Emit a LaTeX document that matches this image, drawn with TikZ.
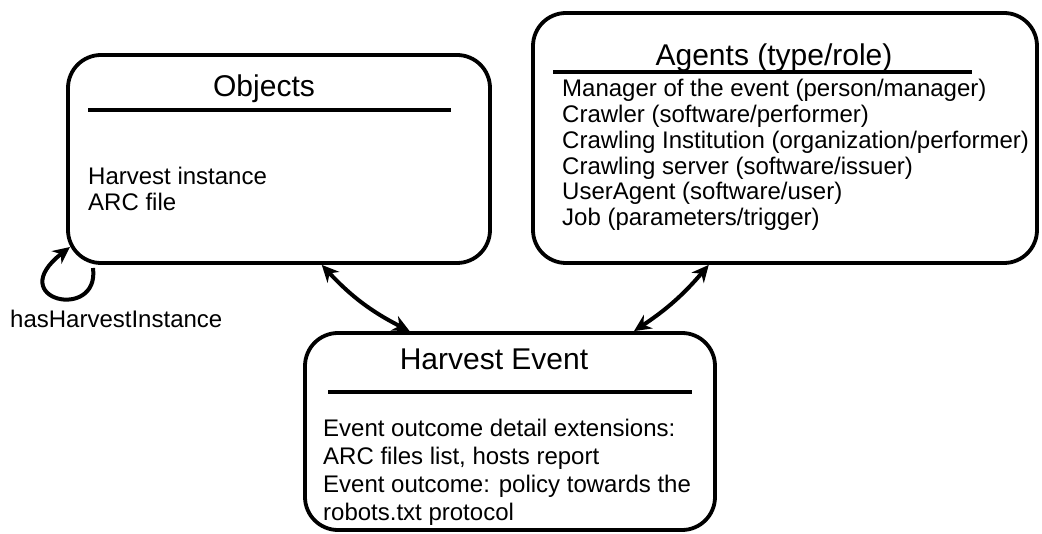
\documentclass[tikz,border=0pt]{standalone}
\usepackage{fontspec}
\setmainfont{Liberation Sans}
\usetikzlibrary{arrows.meta}

\tikzset{
  box/.style={draw, line width=3.8pt, rounded corners=33pt, inner sep=0pt},
  rule/.style={line width=3.8pt},
  title/.style={font=\fontsize{30}{32}\selectfont, anchor=base, inner sep=0pt},
  entries/.style={font=\fontsize{24}{#1}\selectfont, anchor=base west, align=left, inner sep=0pt},
  link/.style={line width=4pt, {Stealth[length=17pt,width=16pt]}-{Stealth[length=17pt,width=16pt]}},
  selfloop/.style={line width=4pt, -{Stealth[length=17pt,width=16pt]}}
}

\begin{document}
\begin{tikzpicture}[x=1pt,y=-1pt]
    \useasboundingbox (0,0) rectangle (1042,534);

    % Boxes
    \node[box, minimum width=422pt, minimum height=208pt] (objects) at (279,159) {};
    \node[box, minimum width=504pt, minimum height=250pt] (agents) at (785,138) {};
    \node[box, minimum width=410pt, minimum height=197pt] (event) at (510,431.5) {};

    % Rules under the titles
    \coordinate (objL) at (88,110);
    \coordinate (objR) at (451,110);
    \coordinate (agL) at (553,72);
    \coordinate (agR) at (972,72);
    \coordinate (evL) at (328,392);
    \coordinate (evR) at (692,392);
    \draw[rule] (objL) -- (objR);
    \draw[rule] (agL) -- (agR);
    \draw[rule] (evL) -- (evR);

    % Titles
    \node[title] (objTitle) at (264,97) {Objects};
    \node[title] (agTitle) at (774,66) {Agents (type/role)};
    \node[title] (evTitle) at (494,370) {Harvest Event};

    % Contents (base sits on the last line)
    \node[entries=26] (objText) at (88,211) {Harvest instance\\ARC file};
    \node[entries=25.7] (agText) at (562,225.5) {Manager of the event (person/manager)\\
        Crawler (software/performer)\\
        Crawling Institution (organization/performer)\\
        Crawling server (software/issuer)\\
        UserAgent (software/user)\\
        Job (parameters/trigger)};
    \node[entries=27.7] (evText) at (323,520) {Event outcome detail extensions:\\
        ARC files list, hosts report\\
        Event outcome: policy towards the\\
        robots.txt protocol};

    % Relations
    \draw[link] (objects.-68.5) to[bend right=10] (event.135.4);
    \draw[link] (agents.-121.8) to[bend left=8] (event.39.5);

    \coordinate (loopStart) at (93,268);
    \coordinate (loopEnd) at (70,247);
    \draw[selfloop] (loopStart) .. controls (100,322) and (2,300) .. (loopEnd);
    \node[anchor=base west, inner sep=0pt, font=\fontsize{24}{26}\selectfont] (loopLabel) at (10,328) {hasHarvestInstance};
\end{tikzpicture}
\end{document}
